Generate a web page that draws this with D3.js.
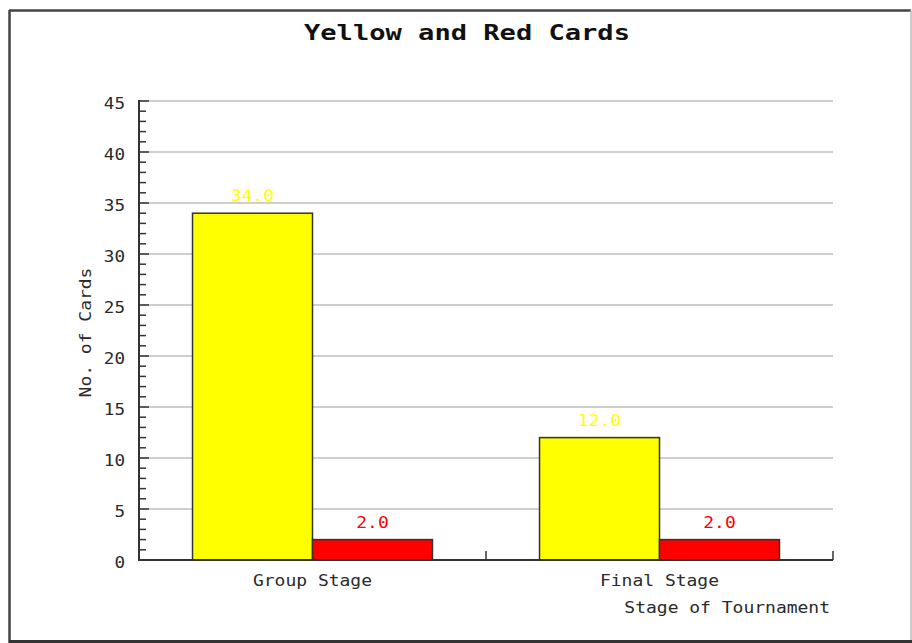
<!DOCTYPE html>
<html>
<head>
<meta charset="utf-8">
<script src="https://cdn.jsdelivr.net/npm/d3@7"></script>
<style>
  body { margin: 0; background: #fff; }
  svg text { font-family: "DejaVu Sans Mono", monospace; }
</style>
</head>
<body>
<svg id="chart" width="912" height="643"></svg>
<script>
// data
let stages = ["Group Stage", "Final Stage"];
let cardTypes = ["Yellow", "Red"];
let yellowCards = [34, 12];
let redCards = [2, 2];
let cardColors = ["#ffff00", "#ff0000"];
let yTicks = [0, 5, 10, 15, 20, 25, 30, 35, 40, 45];

let rows = stages.map(function(s, i) {
    return { stage: s, values: [yellowCards[i], redCards[i]] };
});

let svg = d3.select("#chart");
let width = 912, height = 643;

// frame like the screenshot border
svg.append("rect").attr("x", 0).attr("y", 0).attr("width", width).attr("height", height).attr("fill", "#fff");
svg.append("line").attr("x1", 9).attr("x2", 911).attr("y1", 10.5).attr("y2", 10.5).attr("stroke", "#444").attr("stroke-width", 2.5);
svg.append("line").attr("x1", 9.5).attr("x2", 9.5).attr("y1", 10).attr("y2", 643).attr("stroke", "#444").attr("stroke-width", 2.5);
svg.append("line").attr("x1", 9).attr("x2", 912).attr("y1", 641.5).attr("y2", 641.5).attr("stroke", "#333").attr("stroke-width", 3);
svg.append("line").attr("x1", 911).attr("x2", 911).attr("y1", 10).attr("y2", 640).attr("stroke", "#bbb").attr("stroke-width", 1.5);

let plotLeft = 139, plotRight = 833, plotTop = 101, plotBottom = 560;

let y = d3.scaleLinear().domain([0, 45]).range([plotBottom, plotTop]);
let x0 = d3.scaleBand().domain(stages).range([plotLeft, plotRight]).padding(0);
let x1 = d3.scaleBand().domain(cardTypes).range([0, x0.bandwidth()]).paddingInner(0).paddingOuter(0.446);

// stretched text like the original bitmap font
function label(g, x, yy, str, opts) {
    opts = opts || {};
    let sx = opts.sx || 1.2;
    let t = g.append("text")
        .attr("transform", "translate(" + x + "," + yy + ")" + (opts.rotate ? " rotate(" + opts.rotate + ")" : "") + " scale(" + sx + ",1)")
        .attr("text-anchor", opts.anchor || "middle")
        .attr("font-size", (opts.size || 15) + "px")
        .attr("fill", opts.fill || "#2a2a2a")
        .text(str);
    if (opts.bold) t.attr("font-weight", "bold");
    return t;
}

// gridlines
svg.append("g").selectAll("line")
    .data(yTicks.filter(function(d) { return d > 0; }))
    .enter().append("line")
    .attr("x1", plotLeft).attr("x2", plotRight)
    .attr("y1", function(d) { return y(d); })
    .attr("y2", function(d) { return y(d); })
    .attr("stroke", "#cfcfcf")
    .attr("stroke-width", 2);

// bars
let groups = svg.append("g").selectAll("g")
    .data(rows)
    .enter().append("g")
    .attr("transform", function(d) { return "translate(" + x0(d.stage) + ",0)"; });

groups.selectAll("rect")
    .data(function(d) { return d.values.map(function(v, i) { return { type: cardTypes[i], value: v, color: cardColors[i] }; }); })
    .enter().append("rect")
    .attr("x", function(d) { return x1(d.type); })
    .attr("y", function(d) { return y(d.value); })
    .attr("width", x1.bandwidth())
    .attr("height", function(d) { return y(0) - y(d.value); })
    .attr("fill", function(d) { return d.color; })
    .attr("stroke", "#333")
    .attr("stroke-width", 1.5);

groups.each(function(d) {
    let g = d3.select(this);
    d.values.forEach(function(v, i) {
        label(g, x1(cardTypes[i]) + x1.bandwidth() / 2, y(v) - 12, v.toFixed(1), { fill: cardColors[i], size: 15 });
    });
});

// y axis
let axisG = svg.append("g");
axisG.append("line").attr("x1", plotLeft).attr("x2", plotLeft).attr("y1", plotTop - 1).attr("y2", plotBottom + 1)
    .attr("stroke", "#333").attr("stroke-width", 2);
axisG.selectAll(".minor")
    .data(d3.range(0, 46))
    .enter().append("line")
    .attr("x1", plotLeft)
    .attr("x2", function(d) { return d % 5 == 0 ? plotLeft + 10 : plotLeft + 7; })
    .attr("y1", function(d) { return y(d); })
    .attr("y2", function(d) { return y(d); })
    .attr("stroke", "#333")
    .attr("stroke-width", 1.5);
yTicks.forEach(function(t) {
    label(axisG, 125, y(t) + 8, String(t), { anchor: "end", size: 16, sx: 1.1 });
});

// x axis
axisG.append("line").attr("x1", plotLeft - 1).attr("x2", plotRight).attr("y1", plotBottom).attr("y2", plotBottom)
    .attr("stroke", "#333").attr("stroke-width", 2);
axisG.selectAll(".xtick")
    .data(stages)
    .enter().append("line")
    .attr("x1", function(d) { return x0(d) + x0.bandwidth(); })
    .attr("x2", function(d) { return x0(d) + x0.bandwidth(); })
    .attr("y1", plotBottom)
    .attr("y2", plotBottom - 9)
    .attr("stroke", "#333")
    .attr("stroke-width", 1.5);
stages.forEach(function(s) {
    label(axisG, x0(s) + x0.bandwidth() / 2, 586, s);
});

// titles
label(svg, 467, 40, "Yellow and Red Cards", { size: 21, bold: true, fill: "#111", sx: 1.29 });
label(svg, 830, 613, "Stage of Tournament", { anchor: "end" });
label(svg, 91, (plotTop + plotBottom) / 2 + 2, "No. of Cards", { rotate: -90 });
</script>
</body>
</html>
